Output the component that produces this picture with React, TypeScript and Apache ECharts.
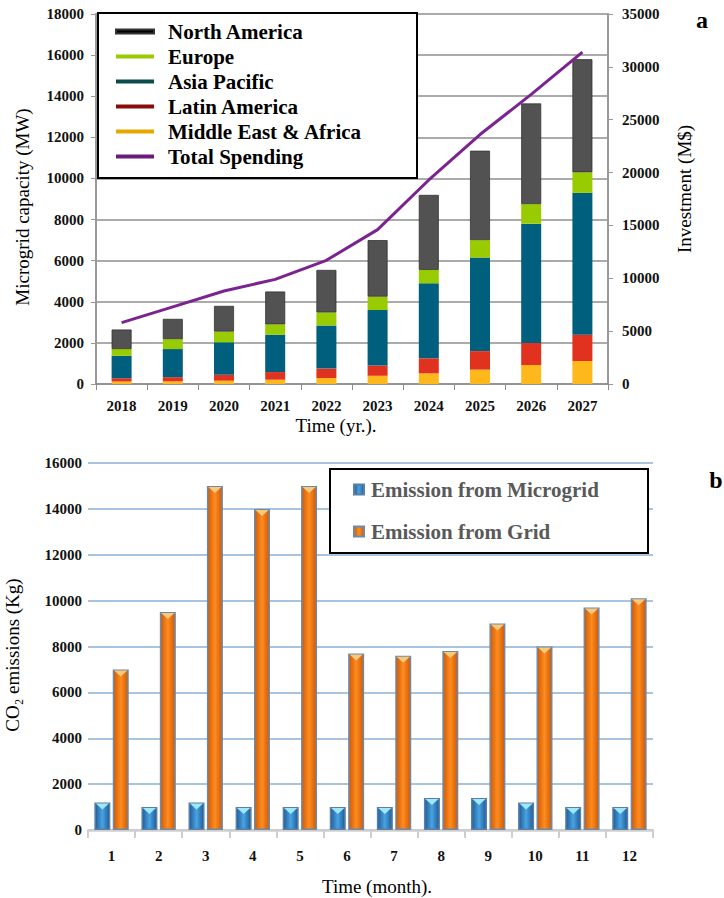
import React, { useEffect, useRef } from "react";
import * as echarts from "echarts";

const FONT = "Liberation Serif";

const years = ["2018", "2019", "2020", "2021", "2022", "2023", "2024", "2025", "2026", "2027"];
const middleEastAfrica = [120, 130, 160, 210, 290, 400, 520, 700, 920, 1120];
const latinAmerica = [160, 200, 290, 370, 460, 500, 730, 900, 1080, 1280];
const asiaPacific = [1100, 1370, 1580, 1820, 2100, 2700, 3650, 4550, 5800, 6900];
const europe = [320, 480, 520, 500, 630, 650, 650, 850, 950, 1000];
const northAmerica = [950, 990, 1250, 1600, 2070, 2750, 3650, 4350, 4900, 5500];
const totalSpending = [5800, 7300, 8800, 9900, 11700, 14600, 19300, 23600, 27400, 31400];

const months = ["1", "2", "3", "4", "5", "6", "7", "8", "9", "10", "11", "12"];
const microgridEmission = [1200, 1000, 1200, 1000, 1000, 1000, 1000, 1400, 1400, 1200, 1000, 1000];
const gridEmission = [7000, 9500, 15000, 14000, 15000, 7700, 7600, 7800, 9000, 8000, 9700, 10100];

const plain = (v: number) => String(v);
const tickLabel = { fontFamily: FONT, fontSize: 15, fontWeight: "bold", color: "#111", formatter: plain };

const blueGrad = new echarts.graphic.LinearGradient(0, 0, 1, 0, [
  { offset: 0, color: "#1d5c97" },
  { offset: 0.5, color: "#4aa3e2" },
  { offset: 1, color: "#1d5c97" },
]);
const orangeGrad = new echarts.graphic.LinearGradient(0, 0, 1, 0, [
  { offset: 0, color: "#cf5a06" },
  { offset: 0.5, color: "#ff8c1f" },
  { offset: 1, color: "#cf5a06" },
]);

function buildOption() {
  return {
    animation: false,
    backgroundColor: "#ffffff",
    textStyle: { fontFamily: FONT },
    grid: [
      { left: 96, top: 14, width: 512, height: 370 },
      { left: 88, top: 463, width: 565, height: 367 },
    ],
    xAxis: [
      {
        type: "category",
        gridIndex: 0,
        data: years,
        axisLine: { lineStyle: { color: "#8c8c8c", width: 1.5 } },
        axisTick: { show: true, length: 6, lineStyle: { color: "#8c8c8c" } },
        axisLabel: { fontFamily: FONT, fontSize: 15, fontWeight: "bold", color: "#111", margin: 14 },
      },
      {
        type: "category",
        gridIndex: 1,
        data: months,
        axisLine: { lineStyle: { color: "#cfcfcf", width: 2.5 } },
        axisTick: { show: true, length: 8, lineStyle: { color: "#cfcfcf", width: 2 } },
        axisLabel: { fontFamily: FONT, fontSize: 15, fontWeight: "bold", color: "#111", margin: 18 },
      },
    ],
    yAxis: [
      {
        type: "value",
        gridIndex: 0,
        min: 0,
        max: 18000,
        interval: 2000,
        axisLine: { show: true, lineStyle: { color: "#999", width: 2 } },
        axisTick: { show: true, length: 5, lineStyle: { color: "#999" } },
        splitLine: { show: true, lineStyle: { color: "#8f8f8f", width: 1.5 } },
        axisLabel: { ...tickLabel, margin: 12 },
      },
      {
        type: "value",
        gridIndex: 0,
        position: "right",
        min: 0,
        max: 35000,
        interval: 5000,
        axisLine: { show: true, lineStyle: { color: "#999", width: 2 } },
        axisTick: { show: true, length: 5, lineStyle: { color: "#999" } },
        splitLine: { show: false },
        axisLabel: { ...tickLabel, margin: 14 },
      },
      {
        type: "value",
        gridIndex: 1,
        min: 0,
        max: 16000,
        interval: 2000,
        axisLine: { show: false },
        axisTick: { show: false },
        splitLine: { show: true, lineStyle: { color: "#a9c4de", width: 2 } },
        axisLabel: { ...tickLabel, margin: 6 },
      },
    ],
    legend: [
      {
        left: 115,
        top: 21,
        padding: 0,
        orient: "vertical",
        icon: "rect",
        itemWidth: 38,
        itemHeight: 4,
        itemGap: 4,
        selectedMode: false,
        z: 10,
        textStyle: { fontFamily: FONT, fontSize: 21, fontWeight: "bold", color: "#000", lineHeight: 21, padding: [0, 0, 0, 9] },
        data: [
          { name: "North America", itemStyle: { color: "#000000" } },
          { name: "Europe", itemStyle: { color: "#99cc00" } },
          { name: "Asia Pacific", itemStyle: { color: "#0b4b4b" } },
          { name: "Latin America", itemStyle: { color: "#8b0a0a" } },
          { name: "Middle East & Africa", itemStyle: { color: "#e6a800" } },
          { name: "Total Spending", itemStyle: { color: "#6a1a7a" } },
        ],
      },
      {
        left: 353,
        top: 479,
        padding: 0,
        orient: "vertical",
        icon: "rect",
        itemWidth: 10,
        itemHeight: 10,
        itemGap: 21,
        selectedMode: false,
        z: 10,
        textStyle: { fontFamily: FONT, fontSize: 21, fontWeight: "bold", color: "#595959", lineHeight: 21, padding: [0, 0, 0, 2] },
        data: ["Emission from Microgrid", "Emission from Grid"],
      },
    ],
    graphic: [
      { type: "rect", z: 5, shape: { x: 98, y: 13, width: 319, height: 165 }, style: { fill: "#fff", stroke: "#000", lineWidth: 2 } },
      { type: "rect", z: 5, shape: { x: 330, y: 469, width: 318, height: 84 }, style: { fill: "#fff", stroke: "#000", lineWidth: 2 } },
      { type: "text", z: 5, x: 702, y: 20, style: { text: "a", font: `bold 24px ${FONT}`, fill: "#000", align: "center", verticalAlign: "middle" } },
      { type: "text", z: 5, x: 716, y: 480, style: { text: "b", font: `bold 24px ${FONT}`, fill: "#000", align: "center", verticalAlign: "middle" } },
      { type: "text", z: 5, x: 22, y: 207, rotation: Math.PI / 2, style: { text: "Microgrid capacity (MW)", font: `19px ${FONT}`, fill: "#000", align: "center", verticalAlign: "middle" } },
      { type: "text", z: 5, x: 684, y: 189, rotation: Math.PI / 2, style: { text: "Investment (M$)", font: `19px ${FONT}`, fill: "#000", align: "center", verticalAlign: "middle" } },
      { type: "text", z: 5, x: 336, y: 425, style: { text: "Time (yr.).", font: `19px ${FONT}`, fill: "#000", align: "center", verticalAlign: "middle" } },
      { type: "text", z: 5, x: 12, y: 655, rotation: Math.PI / 2, style: { text: "CO₂ emissions (Kg)", font: `19px ${FONT}`, fill: "#000", align: "center", verticalAlign: "middle" } },
      { type: "text", z: 5, x: 377, y: 886, style: { text: "Time (month).", font: `19px ${FONT}`, fill: "#000", align: "center", verticalAlign: "middle" } },
    ],
    series: [
      { name: "Middle East & Africa", type: "bar", stack: "cap", xAxisIndex: 0, yAxisIndex: 0, barWidth: 20, data: middleEastAfrica, itemStyle: { color: "#ffb81c" } },
      { name: "Latin America", type: "bar", stack: "cap", xAxisIndex: 0, yAxisIndex: 0, barWidth: 20, data: latinAmerica, itemStyle: { color: "#e0321f" } },
      { name: "Asia Pacific", type: "bar", stack: "cap", xAxisIndex: 0, yAxisIndex: 0, barWidth: 20, data: asiaPacific, itemStyle: { color: "#005f7c" } },
      { name: "Europe", type: "bar", stack: "cap", xAxisIndex: 0, yAxisIndex: 0, barWidth: 20, data: europe, itemStyle: { color: "#99cc00" } },
      { name: "North America", type: "bar", stack: "cap", xAxisIndex: 0, yAxisIndex: 0, barWidth: 20, data: northAmerica, itemStyle: { color: "#525252", borderColor: "#333", borderWidth: 0.8 } },
      { name: "Total Spending", type: "line", xAxisIndex: 0, yAxisIndex: 1, data: totalSpending, symbol: "none", lineStyle: { color: "#7b2390", width: 3 }, itemStyle: { color: "#7b2390" }, z: 4 },
      {
        name: "Emission from Microgrid", type: "bar", xAxisIndex: 1, yAxisIndex: 2, barWidth: 16, barGap: "15%", data: microgridEmission,
        itemStyle: { color: blueGrad, borderColor: "#5b7fa6", borderWidth: 1.5 },
      },
      {
        name: "Emission from Grid", type: "bar", xAxisIndex: 1, yAxisIndex: 2, barWidth: 16, barGap: "15%", data: gridEmission,
        itemStyle: { color: orangeGrad, borderColor: "#6f8aa8", borderWidth: 1.5 },
      },
      {
        name: "micro-top", type: "pictorialBar", xAxisIndex: 1, yAxisIndex: 2, barWidth: 16, barGap: "15%", data: microgridEmission,
        symbol: "path://M0,0 L10,0 L5,5 Z", symbolSize: [13, 6], symbolPosition: "end", symbolOffset: [0, 1], silent: true, z: 3,
        itemStyle: { color: "#9ee8fb" },
      },
      {
        name: "grid-top", type: "pictorialBar", xAxisIndex: 1, yAxisIndex: 2, barWidth: 16, barGap: "15%", data: gridEmission,
        symbol: "path://M0,0 L10,0 L5,5 Z", symbolSize: [13, 6], symbolPosition: "end", symbolOffset: [0, 1], silent: true, z: 3,
        itemStyle: { color: "#f7c97c" },
      },
    ],
  };
}

export default function App() {
  const ref = useRef<HTMLDivElement>(null);
  useEffect(() => {
    if (!ref.current) return;
    const chart = echarts.init(ref.current, null, { renderer: "svg" });
    chart.setOption(buildOption() as any);
    return () => chart.dispose();
  }, []);
  return (
    <div
      ref={ref}
      style={{ position: "fixed", left: 0, top: 0, width: 724, height: 898, background: "#fff" }}
    />
  );
}
